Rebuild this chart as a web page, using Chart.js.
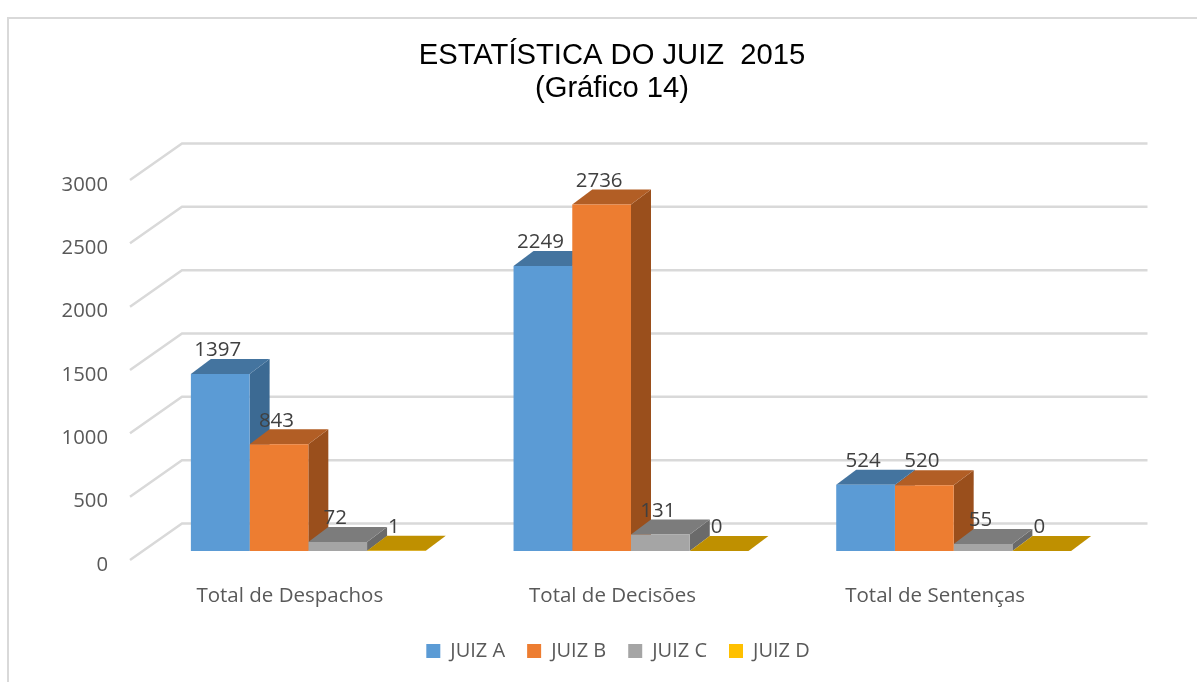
<!DOCTYPE html>
<html><head><meta charset="utf-8">
<style>
html,body{margin:0;padding:0;background:#fff;overflow:hidden}
#wrap{position:relative;width:1204px;height:682px}
#frame{position:absolute;left:7px;top:17px;width:1190px;height:670px;border:2px solid #D9D9D9;border-right:none;border-bottom:none;box-sizing:border-box}
canvas{position:absolute;left:0;top:0}
</style>
<script src="https://cdn.jsdelivr.net/npm/chart.js@4"></script>
</head><body>
<div id="wrap"><div id="frame"></div><canvas id="c" width="1204" height="682"></canvas></div>
<script>
const categories = ['Total de Despachos','Total de Decisões','Total de Sentenças'];
const juizA = [1397,2249,524];
const juizB = [843,2736,520];
const juizC = [72,131,55];
const juizD = [1,0,0];
const seriesNames = ['JUIZ A','JUIZ B','JUIZ C','JUIZ D'];
const frontColors = ['#5B9BD5','#ED7D31','#A5A5A5','#FFC000'];
const topColors = ['#44749F','#B25E25','#7C7C7C','#BF9000'];
const sideColors = ['#3C6A93','#9A4F1C','#6A6A6A','#A67C00'];
const tickValues = [0,500,1000,1500,2000,2500,3000];
const seriesValues = [juizA,juizB,juizC,juizD];

const DX = 20, DY = 15;
const sans = '"Open Sans"';

function poly(ctx, pts, fill){
  ctx.fillStyle = fill; ctx.beginPath();
  pts.forEach((p,i)=> i?ctx.lineTo(p[0],p[1]):ctx.moveTo(p[0],p[1]));
  ctx.closePath(); ctx.fill();
}
const plugin3d = {
  id:'plugin3d',
  afterLayout(chart){
    chart.legend.left += 35.5; chart.legend.right += 35.5;
    chart.titleBlock.left += 29.5; chart.titleBlock.right += 29.5;
  },
  beforeDatasetsDraw(chart){
    const ctx = chart.ctx, y = chart.scales.y;
    ctx.save();
    ctx.strokeStyle = '#D9D9D9'; ctx.lineWidth = 2.5;
    tickValues.forEach(v=>{
      const py = y.getPixelForValue(v);
      ctx.beginPath();
      ctx.moveTo(130, py+9);
      ctx.lineTo(182, py-27.5);
      ctx.lineTo(1147.5, py-27.5);
      ctx.stroke();
    });
    const n = chart.data.labels.length;
    for(let c=0;c<n;c++){
      chart.data.datasets.forEach((ds,d)=>{
        const bar = chart.getDatasetMeta(d).data[c];
        const l = bar.x-bar.width/2, r = bar.x+bar.width/2, t = bar.y, b = bar.base;
        if(b-t>0.5) poly(ctx,[[r,t],[r+DX,t-DY],[r+DX,b-DY],[r,b]],sideColors[d]);
        poly(ctx,[[l,t],[l+DX,t-DY],[r+DX,t-DY],[r,t]],topColors[d]);
      });
    }
    ctx.restore();
  },
  afterDatasetsDraw(chart){
    const ctx = chart.ctx;
    ctx.save();
    ctx.font = '20.5px '+sans; ctx.fillStyle = '#404040';
    ctx.textAlign='center'; ctx.textBaseline='middle';
    chart.data.datasets.forEach((ds,d)=>{
      chart.getDatasetMeta(d).data.forEach((bar,i)=>{
        ctx.fillText(String(ds.data[i]), bar.x-2.5, bar.y-23.5);
      });
    });
    ctx.restore();
  }
};
new Chart(document.getElementById('c'),{
  type:'bar',
  data:{labels:categories,
    datasets:seriesNames.map((name,i)=>({label:name,data:seriesValues[i],backgroundColor:frontColors[i],borderWidth:0,categoryPercentage:0.728,barPercentage:1}))},
  options:{
    responsive:false,animation:false,
    layout:{padding:{left:50,right:89,top:0,bottom:11}},
    scales:{
      x:{grid:{display:false},border:{display:false},
        ticks:{font:{family:sans,size:20.5},color:'#595959',labelOffset:-18.5,padding:25,maxRotation:0},
        afterFit(s){s.height=68;}},
      y:{min:0,max:3000,grid:{display:false},border:{display:false},
        ticks:{stepSize:500,font:{family:sans,size:20.3},color:'#595959',labelOffset:14,padding:31,callback:v=>String(v)},
        afterFit(s){s.width=97;}}
    },
    plugins:{
      title:{display:true,text:['ESTATÍSTICA DO JUIZ  2015','(Gráfico 14)'],color:'#000000',
        font:{family:'"Liberation Sans"',size:29.2,weight:'normal',lineHeight:1.13},padding:{top:39,bottom:66}},
      legend:{position:'bottom',labels:{font:{family:sans,size:20},color:'#595959',boxWidth:14,boxHeight:14,padding:22}},
      tooltip:{enabled:false}
    }
  },
  plugins:[plugin3d]
});
</script></body></html>
